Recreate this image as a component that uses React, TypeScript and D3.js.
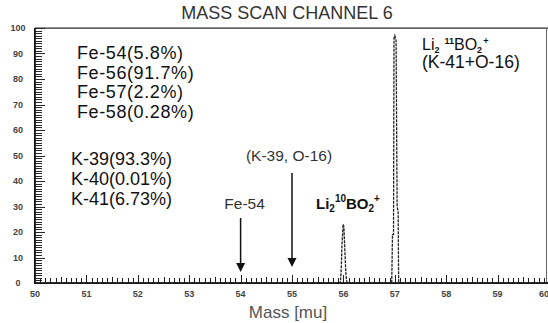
import * as d3 from 'd3';
import { useEffect, useRef } from 'react';

// spectrum profile (mass in mu, intensity in %)
const masses = [50, 55.94, 55.955, 55.975, 55.995, 56.01, 56.03, 56.05, 56.07, 56.94, 56.955, 56.975, 56.985, 57.0, 57.025, 57.045, 57.065, 57.075, 60];
const intensities = [0, 0, 4, 16, 23, 22, 12, 3, 0, 0, 19, 19, 96, 97, 95, 30, 28, 0, 0];

const xTicks = [50, 51, 52, 53, 54, 55, 56, 57, 58, 59, 60];
const yTicks = [0, 10, 20, 30, 40, 50, 60, 70, 80, 90, 100];

const feLines = ['Fe-54(5.8%)', 'Fe-56(91.7%)', 'Fe-57(2.2%)', 'Fe-58(0.28%)'];
const kLines = ['K-39(93.3%)', 'K-40(0.01%)', 'K-41(6.73%)'];

const W = 548;
const H = 323;

const App: React.FC = () => {
    const svgRef = useRef<SVGSVGElement>(null);

    useEffect(() => {
        const svg = d3.select(svgRef.current);
        svg.selectAll('*').remove();

        const margin = { top: 28, right: 0, bottom: 40, left: 35 };
        const font = '"Liberation Sans", Arial, sans-serif';

        const x = d3.scaleLinear().domain([50, 60]).range([margin.left, margin.left + 514]);
        const y = d3.scaleLinear().domain([0, 100]).range([H - margin.bottom, margin.top]);

        // frame
        svg.append('rect')
            .attr('x', margin.left).attr('y', y(100) - 0.5)
            .attr('width', W - margin.left).attr('height', 1.2)
            .attr('fill', '#222');
        svg.append('rect')
            .attr('x', W - 2).attr('y', y(100))
            .attr('width', 1).attr('height', y(0) - y(100))
            .attr('fill', '#666');

        // y axis: dense minor ticks every 1 unit, longer at tens
        svg.append('g')
            .selectAll('rect')
            .data(d3.range(0, 101, 1))
            .join('rect')
            .attr('x', margin.left)
            .attr('y', (d) => Math.round(y(d)))
            .attr('width', (d) => (d % 10 === 0 ? 10 : 7))
            .attr('height', 1)
            .attr('fill', '#2a2a2a');
        svg.append('rect')
            .attr('x', margin.left - 1).attr('y', y(100))
            .attr('width', 1.8).attr('height', y(0) - y(100))
            .attr('fill', '#111');

        svg.append('g').selectAll('text')
            .data(yTicks)
            .join('text')
            .attr('x', 18)
            .attr('y', (d) => y(d) + 3)
            .attr('text-anchor', 'middle')
            .attr('font-family', font)
            .attr('font-size', 9)
            .attr('font-weight', 'bold')
            .attr('fill', '#444')
            .text((d) => d);

        // x axis: minor ticks every 0.1 mu, longer at integers
        svg.append('g')
            .selectAll('rect')
            .data(d3.range(0, 101, 1))
            .join('rect')
            .attr('x', (d) => Math.round(x(50 + d / 10)))
            .attr('y', (d) => y(0) - (d % 10 === 0 ? 8 : d % 5 === 0 ? 6 : 5))
            .attr('width', 1)
            .attr('height', (d) => (d % 10 === 0 ? 8 : d % 5 === 0 ? 6 : 5))
            .attr('fill', '#222');
        svg.append('rect')
            .attr('x', margin.left - 1).attr('y', y(0) - 0.8)
            .attr('width', W - margin.left + 1).attr('height', 1.8)
            .attr('fill', '#111');

        svg.append('g').selectAll('text')
            .data(xTicks)
            .join('text')
            .attr('x', (d) => Math.min(x(d), W - 4))
            .attr('y', y(0) + 14)
            .attr('text-anchor', 'middle')
            .attr('font-family', font)
            .attr('font-size', 9)
            .attr('font-weight', 'bold')
            .attr('fill', '#444')
            .text((d) => d);

        // spectrum
        const pts = masses.map((m, i) => [m, intensities[i]] as [number, number]);
        const line = d3.line<[number, number]>().x((d) => x(d[0])).y((d) => y(d[1]));
        svg.append('path')
            .datum(pts)
            .attr('d', line)
            .attr('fill', 'none')
            .attr('stroke', '#222')
            .attr('stroke-width', 1.3)
            .attr('stroke-dasharray', '3,1');

        // title and axis label
        svg.append('text')
            .attr('x', 287).attr('y', 19)
            .attr('text-anchor', 'middle')
            .attr('font-family', font).attr('font-size', 18)
            .attr('fill', '#333')
            .text('MASS SCAN CHANNEL 6');
        svg.append('text')
            .attr('x', 288).attr('y', 318)
            .attr('text-anchor', 'middle')
            .attr('font-family', font).attr('font-size', 17)
            .attr('fill', '#555')
            .text('Mass [mu]');

        // isotope abundance notes
        const note = svg.append('g').attr('font-family', font).attr('font-size', 18).attr('fill', '#111');
        feLines.forEach((t, i) => {
            note.append('text').attr('x', 77).attr('y', 59 + i * 19.5).attr('letter-spacing', 0.6).text(t);
        });
        kLines.forEach((t, i) => {
            note.append('text').attr('x', 71).attr('y', 165 + i * 20).text(t);
        });

        // arrows
        const arrows = [
            { m: 54, y1: 218, y2: 272, label: 'Fe-54', ly: 209, dx: 4 },
            { m: 55, y1: 173, y2: 267, label: '(K-39, O-16)', ly: 161, dx: -3 }
        ];
        arrows.forEach((a) => {
            const ax = x(a.m);
            svg.append('path')
                .attr('d', `M${ax},${a.y1}V${a.y2 - 8}`)
                .attr('stroke', '#111').attr('stroke-width', 1.5);
            svg.append('path')
                .attr('d', `M${ax - 4.5},${a.y2 - 9}L${ax + 4.5},${a.y2 - 9}L${ax},${a.y2}Z`)
                .attr('fill', '#111');
            svg.append('text')
                .attr('x', ax + a.dx).attr('y', a.ly)
                .attr('text-anchor', 'middle')
                .attr('font-family', font).attr('font-size', 15.5)
                .attr('fill', '#333')
                .text(a.label);
        });

        // peak labels
        const lab10 = svg.append('text')
            .attr('x', 316).attr('y', 209)
            .attr('font-family', font).attr('font-size', 15)
            .attr('font-weight', 'bold').attr('fill', '#111');
        lab10.append('tspan').text('Li');
        lab10.append('tspan').attr('font-size', 10).attr('dy', 3).text('2');
        lab10.append('tspan').attr('font-size', 10).attr('dy', -10).text('10');
        lab10.append('tspan').attr('dy', 7).text('BO');
        lab10.append('tspan').attr('font-size', 10).attr('dy', 3).text('2');
        lab10.append('tspan').attr('font-size', 10).attr('dy', -10).text('+');

        const lab11 = svg.append('text')
            .attr('x', 422).attr('y', 50)
            .attr('font-family', font).attr('font-size', 16)
            .attr('fill', '#111');
        lab11.append('tspan').text('Li');
        lab11.append('tspan').attr('font-size', 9).attr('font-weight', 'bold').attr('dy', 3).text('2');
        lab11.append('tspan').attr('font-size', 9).attr('font-weight', 'bold').attr('dx', 5).attr('dy', -9).text('11');
        lab11.append('tspan').attr('dy', 6).text('BO');
        lab11.append('tspan').attr('font-size', 9).attr('font-weight', 'bold').attr('dy', 3).text('2');
        lab11.append('tspan').attr('font-size', 9).attr('font-weight', 'bold').attr('dx', 1).attr('dy', -9).text('+');
        svg.append('text')
            .attr('x', 422).attr('y', 68)
            .attr('font-family', font).attr('font-size', 17.5)
            .attr('fill', '#111')
            .text('(K-41+O-16)');
    }, []);

    return (
        <svg
            ref={svgRef}
            width={W}
            height={H}
            style={{ position: 'absolute', left: 0, top: 0, background: '#fff' }}
        ></svg>
    );
};

export default App;
